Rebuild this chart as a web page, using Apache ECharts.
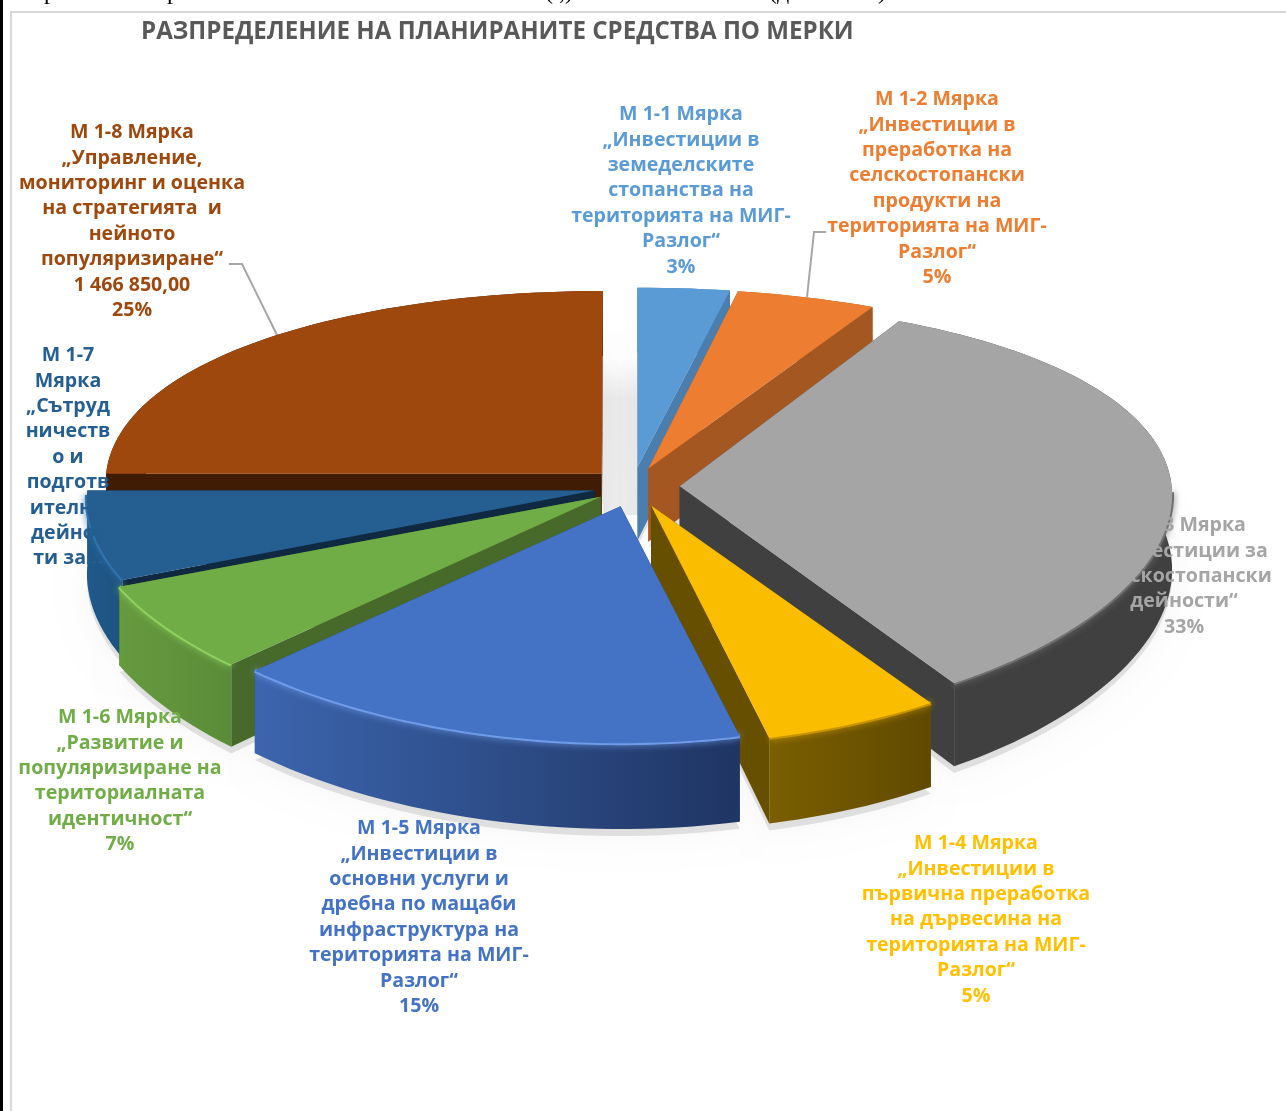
<!DOCTYPE html>
<html>
<head>
<meta charset="utf-8">
<style>html,body{margin:0;padding:0;background:#fff}#chart{width:1286px;height:1111px}</style>
<script src="https://cdn.jsdelivr.net/npm/echarts@6/dist/echarts.min.js"></script>
</head>
<body>
<div id="chart"></div>
<script>
// slice sizes in % (the printed labels are rounded differently)
const sliceValues = [3, 4.7, 33.3, 5.4, 15.75, 6.2, 6.65, 25];
const labelLines = [
  ["М 1-1 Мярка", "„Инвестиции в", "земеделските", "стопанства на", "територията на МИГ-", "Разлог“", "3%"],
  ["М 1-2 Мярка", "„Инвестиции в", "преработка на", "селскостопански", "продукти на", "територията на МИГ-", "Разлог“", "5%"],
  ["М 1-3 Мярка", "„Инвестиции за", "селскостопански", "дейности“", "33%"],
  ["М 1-4 Мярка", "„Инвестиции в", "първична преработка", "на дървесина на", "територията на МИГ-", "Разлог“", "5%"],
  ["М 1-5 Мярка", "„Инвестиции в", "основни услуги и", "дребна по мащаби", "инфраструктура на", "територията на МИГ-", "Разлог“", "15%"],
  ["М 1-6 Мярка", "„Развитие и", "популяризиране на", "териториалната", "идентичност“", "7%"],
  ["М 1-7", "Мярка", "„Сътруд", "ничеств", "о и", "подготв", "ителни", "дейнос", "ти за..."],
  ["М 1-8 Мярка", "„Управление,", "мониторинг и оценка", "на стратегията  и", "нейното", "популяризиране“", "1 466 850,00", "25%"]
];
const labelX = [681, 937, 1184, 976, 419, 120, 68, 132];
const labelY = [102, 87, 513, 831, 816, 705, 343, 120];
const topColors = ["#5b9bd5", "#ed7d31", "#a5a5a5", "#fbbd00", "#4472c4", "#70ad47", "#255e91", "#9e480e"];
const textColors = ["#5b9bd5", "#ed7d31", "#a5a5a5", "#ffc000", "#4472c4", "#70ad47", "#255e91", "#9e480e"];
const cutColors = ["#4a7eae", "#a55722", "#404040", "#674f00", "#2d4c85", "#47692a", "#0e2940", "#411c05"];
const wallLeft = ["#4a7eae", "#a55722", "#404040", "#7b5e00", "#3c65ae", "#669a3f", "#1f5a8c", "#411c05"];
const wallRight = ["#4a7eae", "#a55722", "#404040", "#604a00", "#1f3563", "#5a8c38", "#1d5280", "#411c05"];
const rimColors = ["#7fb2e2", "#f39a5c", "#707070", "#c79400", "#6f9be8", "#8fd05f", "#2f74ad", "#b85a1a"];
const paintOrder = [7, 0, 1, 6, 5, 2, 3, 4];

const pie = { cx: 633, cy: 487, rx: 492, ry: 208, px: 0.04, py: 0.13, height: 74 };
const explode = [0.095, 0.095, 0.095, 0.095, 0.095, 0.08, 0.08, 0.09];
const stretchX = [1.05, 1.02, 1, 1.02, 1.04, 1.05, 1.03, 1.01];
const stretchY = [1, 1, 1, 0.98, 0.97, 1, 1, 1.01];

function point(i, theta, r, mid, depth) {
  const u = explode[i] * Math.sin(mid) + r * stretchX[i] * Math.sin(theta);
  const v = -(explode[i] * Math.cos(mid) + r * stretchY[i] * Math.cos(theta));
  const sx = 1 / (1 - pie.px * v);
  const sy = 1 / (1 - pie.py * v);
  return [pie.cx + pie.rx * u * sx, pie.cy + pie.ry * v * sy + depth * sy];
}

function arc(i, a0, a1, mid, depth) {
  const pts = [];
  const n = Math.max(2, Math.ceil((a1 - a0) / 0.03));
  for (let k = 0; k <= n; k++) pts.push(point(i, a0 + (a1 - a0) * k / n, 1, mid, depth));
  return pts;
}

function hGradient(left, right) {
  return { type: "linear", x: 0, y: 0, x2: 1, y2: 0, colorStops: [{ offset: 0, color: left }, { offset: 1, color: right }] };
}

let acc = 0;
const total = sliceValues.reduce((a, b) => a + b, 0);
const spans = sliceValues.map(v => {
  const s = [acc, acc + v];
  acc += v;
  return s;
});

function renderShadow(params, api) {
  const a0 = api.value(0) / total * Math.PI * 2;
  const a1 = api.value(1) / total * Math.PI * 2;
  const i = api.value(2);
  const mid = (a0 + a1) / 2;
  const apex = point(i, 0, 0, mid, pie.height + 6);
  return {
    type: "polygon",
    shape: { points: [apex].concat(arc(i, a0, a1, mid, pie.height + 6)) },
    style: { fill: "rgba(0,0,0,0.1)", shadowBlur: 30, shadowColor: "rgba(0,0,0,0.4)" }
  };
}

function renderSlice(params, api) {
  const a0 = api.value(0) / total * Math.PI * 2;
  const a1 = api.value(1) / total * Math.PI * 2;
  const i = api.value(2);
  const mid = (a0 + a1) / 2;
  const h = pie.height;
  const apexTop = point(i, 0, 0, mid, 0);
  const apexBot = point(i, 0, 0, mid, h);
  const topArc = arc(i, a0, a1, mid, 0);
  const botArc = arc(i, a0, a1, mid, h);
  const cut = (p, q) => ({
    type: "polygon",
    shape: { points: [apexTop, p, q, apexBot] },
    style: { fill: cutColors[i] }
  });
  const children = [
    cut(topArc[0], botArc[0]),
    cut(topArc[topArc.length - 1], botArc[botArc.length - 1]),
    {
      type: "polygon",
      shape: { points: topArc.concat(botArc.slice().reverse()) },
      style: { fill: hGradient(wallLeft[i], wallRight[i]) }
    }
  ];
  // highlight only on the rim that faces the viewer
  const rim = [];
  const n = 60;
  for (let k = 0; k <= n; k++) {
    const t = a0 + (a1 - a0) * k / n;
    if (Math.cos(t) < -0.02) rim.push(point(i, t, 1, mid, 0));
  }
  if (rim.length > 1) {
    children.push({
      type: "polyline",
      shape: { points: rim },
      style: { fill: null, stroke: rimColors[i], lineWidth: 4, shadowBlur: 7, shadowColor: rimColors[i] }
    });
  }
  children.push({
    type: "polygon",
    shape: { points: [apexTop].concat(topArc) },
    style: { fill: topColors[i] }
  });
  return { type: "group", children };
}

function renderLabel(params, api) {
  const i = api.value(0);
  return {
    type: "text",
    style: {
      text: labelLines[i].join("\n"),
      x: labelX[i],
      y: labelY[i],
      align: "center",
      verticalAlign: "top",
      font: "bold 19.6px 'Open Sans'",
      lineHeight: 25.4,
      fill: textColors[i]
    }
  };
}

function cropped(x, text) {
  return { type: "text", x: x, y: 5, style: { text: text, font: "24px 'Liberation Serif'", fill: "#000", verticalAlign: "bottom" } };
}

const chart = echarts.init(document.getElementById("chart"), null, { renderer: "canvas" });
chart.setOption({
  animation: false,
  backgroundColor: "#fff",
  graphic: [
    { type: "rect", shape: { x: 0, y: 0, width: 3, height: 1111 }, style: { fill: "#000" } },
    { type: "rect", shape: { x: 10, y: 11, width: 1276, height: 2 }, style: { fill: "#d9d9d9" } },
    { type: "rect", shape: { x: 10, y: 11, width: 2, height: 1100 }, style: { fill: "#d9d9d9" } },
    cropped(44, "р"),
    cropped(167, "р"),
    cropped(545, "( ,)"),
    cropped(769, "(д"),
    cropped(878, ")"),
    // soft shade seen through the gap at the back of the pie
    {
      type: "rect",
      shape: { x: 603, y: 360, width: 36, height: 155 },
      style: {
        fill: {
          type: "linear", x: 0, y: 0, x2: 0, y2: 1,
          colorStops: [{ offset: 0, color: "#ffffff" }, { offset: 0.25, color: "#ececec" }, { offset: 1, color: "#eeeeee" }]
        }
      }
    },
    { type: "polyline", shape: { points: [[826, 232], [814, 232], [807, 297]] }, style: { fill: null, stroke: "#a6a6a6", lineWidth: 2 } },
    { type: "polyline", shape: { points: [[229, 264], [242, 264], [279, 339]] }, style: { fill: null, stroke: "#a6a6a6", lineWidth: 2 } }
  ],
  title: {
    text: "РАЗПРЕДЕЛЕНИЕ НА ПЛАНИРАНИТЕ СРЕДСТВА ПО МЕРКИ",
    left: 136,
    top: 15,
    textStyle: { fontFamily: "Open Sans", fontWeight: "bold", fontSize: 24.1, color: "#595959" }
  },
  series: [
    {
      type: "custom",
      coordinateSystem: "none",
      silent: true,
      clip: false,
      z: 1,
      renderItem: renderShadow,
      data: paintOrder.map(i => [spans[i][0], spans[i][1], i])
    },
    {
      type: "custom",
      coordinateSystem: "none",
      silent: true,
      clip: false,
      z: 2,
      renderItem: renderSlice,
      data: paintOrder.map(i => [spans[i][0], spans[i][1], i])
    },
    {
      type: "custom",
      coordinateSystem: "none",
      silent: true,
      z: 3,
      renderItem: renderLabel,
      data: labelLines.map((l, i) => [i])
    }
  ]
});
</script>
</body>
</html>
